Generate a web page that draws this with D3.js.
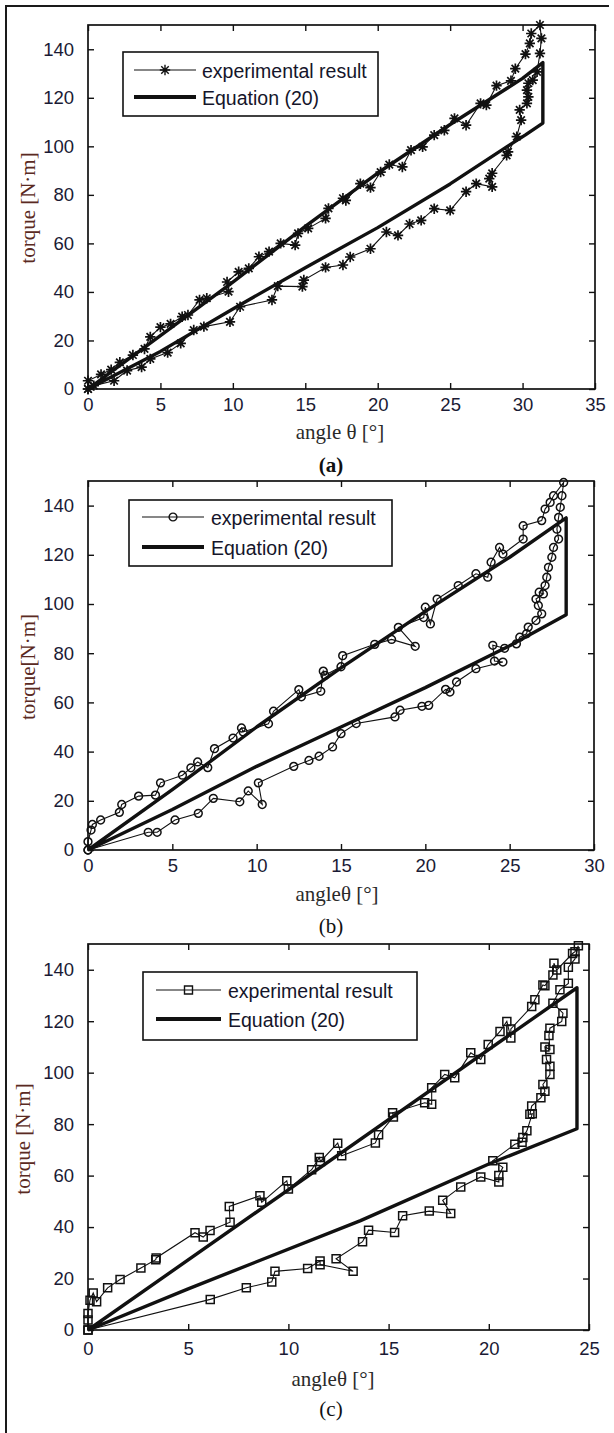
<!DOCTYPE html>
<html>
<head>
<meta charset="utf-8">
<script src="https://cdn.jsdelivr.net/npm/d3@7"></script>
<style>
  body { margin: 0; background: #fff; }
  svg { display: block; }
</style>
</head>
<body>
<svg id="fig" width="614" height="1433"></svg>
<script>
// ---- Data -----------------------------------------------------------------
// Torque axis (shared by all three panels)
const torqueTicks = [0, 20, 40, 60, 80, 100, 120, 140];

// Panel (a): angle ticks and measured loop (loading then unloading)
const aAngleTicks = [0, 5, 10, 15, 20, 25, 30, 35];
const aAngle = [0, 0, 0.9, 1.6, 2.2, 3.1, 3.9, 4.3, 5.0, 5.7, 6.5, 6.9, 7.7, 8.2, 9.7, 9.6, 10.4, 11.1, 11.8, 12.5,
  13.3, 14.3, 14.5, 15.2, 16.4, 16.6, 17.6, 17.8, 18.8, 19.5, 20.2, 20.8, 21.7, 22.3, 23.1, 23.9, 24.6, 25.3, 26.1,
  27.1, 27.5, 28.2, 29.2, 29.5, 30.2, 30.5, 30.6, 31.2,
  31.3, 31.2, 31.0, 30.7, 30.4, 30.3, 30.4, 30.3, 29.8, 29.9, 29.6, 29.0, 28.9, 27.9, 27.7, 27.9, 26.8, 26.1, 25.0,
  23.9, 23.0, 22.2, 21.4, 20.6, 19.5, 18.1, 17.6, 16.4, 14.9, 14.8, 13.1, 12.7, 10.5, 9.8, 8.0, 7.3, 6.4, 5.5, 4.3,
  3.7, 2.7, 1.8, 0.4, 0];
const aTorque = [0, 3.4, 6, 8, 11, 14, 16.5, 21.5, 25.5, 26.8, 29.8, 30.5, 36.7, 37.4, 40.1, 44.1, 48.3, 49.7, 54.5, 56.6,
  60, 59.3, 64.1, 66.2, 70.3, 74.4, 78.6, 77.7, 84.6, 83, 89.4, 92.5, 91.5, 98.4, 99.8, 104.6, 106.6, 111.5, 108.7,
  117.7, 117, 125, 127, 132, 138, 142.4, 146.5, 150,
  144.5, 138.3, 130.7, 127.3, 126, 123.2, 120.4, 117.7, 115, 110.8, 104, 97.7, 96.3, 88.9, 86.7, 83.3, 84.6, 81.3, 73.6,
  74.3, 69.5, 68, 63.3, 64.7, 57.8, 54.4, 51.1, 50.1, 44.9, 42.2, 42.4, 36.7, 33.9, 27.7, 25.7, 24.3, 18.8, 15, 12.4,
  9, 7.6, 3.4, 1.4, 0];
// Panel (a): Equation (20)
const aEqAngle = [0, 5, 10, 15, 20, 25, 30, 31.4, 31.4, 30.2, 28.9, 25, 20, 15, 10, 5, 0];
const aEqTorque = [0, 22, 44, 67, 89, 109, 128, 134.5, 109.6, 104.7, 99.8, 84.5, 66.5, 50, 33, 15.5, 0];

// Panel (b)
const bAngleTicks = [0, 5, 10, 15, 20, 25, 30];
const bAngle = [0, 0, 0.18, 0.26, 0.75, 1.86, 2.0, 3.0, 4.0, 4.3, 5.6, 6.1, 6.5, 7.1, 7.5, 8.6, 9.1, 9.2, 10.7, 11.0,
  12.5, 12.65, 13.8, 13.95, 14.05, 15.0, 15.1, 17.0, 18.0, 19.4, 18.4, 19.9, 20.0, 20.3, 20.7, 21.95, 23.0, 23.7,
  23.9, 24.4, 24.6, 25.8, 25.8, 26.9, 27.1, 27.4, 27.6, 28.2,
  28.1, 28.0, 27.9, 27.8, 27.9, 27.6, 27.5, 27.3, 27.2, 27.1, 26.75, 27.0, 26.56, 26.7, 26.9, 26.56, 26.1, 26.0, 25.6,
  25.4, 24.7, 24.0, 24.1, 24.6, 23.0, 21.85, 21.46, 21.2, 20.2, 19.8, 18.5, 18.2, 15.9, 15.0, 14.5, 13.7, 13.1, 12.2,
  10.1, 10.33, 9.5, 9.0, 7.43, 6.54, 5.16, 4.1, 3.57, 0];
const bTorque = [0, 3.4, 8.1, 10.4, 12.2, 15.3, 18.5, 21.9, 22.3, 27.3, 30.4, 33.4, 35.8, 33.5, 41.2, 45.5, 49.6, 48, 51.3, 56.4,
  65.2, 62.3, 64.5, 72.7, 71, 74.5, 79, 83.6, 85.6, 82.8, 90.5, 94.5, 98.7, 91.9, 102, 107.5, 112.3, 110.9,
  117, 123, 120.3, 126.4, 131.8, 133.9, 138.6, 141.3, 144, 149.4,
  144, 139.3, 135.2, 130.4, 126.4, 123, 119, 114.9, 110.9, 107.5, 104.8, 104.1, 102, 99.4, 96, 93.3, 90.6, 87.9, 86.5,
  83.8, 82, 83.2, 76.8, 76.4, 73.7, 68.3, 64.2, 65.3, 58.8, 58.4, 56.8, 54.1, 51.4, 47.3, 41.9, 38.1, 36.4, 34,
  27.3, 18.5, 24, 19.6, 21, 14.9, 12.2, 7.2, 7.2, 0];
const bEqAngle = [0, 5, 10, 15, 20, 25, 28.35, 28.35, 25, 20, 15, 10, 5, 0];
const bEqTorque = [0, 24.5, 50, 74, 97, 119, 135, 95.6, 83, 66, 50, 34, 16.5, 0];

// Panel (c)
const cAngleTicks = [0, 5, 10, 15, 20, 25];
const cAngle = [0, 0, 0, 0.1, 0.26, 0.43, 0.98, 1.6, 2.64, 3.38, 3.4, 5.34, 5.75, 6.09, 7.09, 7.05, 8.58, 8.67, 9.92, 10.0,
  11.16, 11.54, 11.6, 12.46, 12.66, 14.34, 14.5, 15.24, 15.2, 16.8, 17.15, 17.15, 17.8, 18.3, 19.1, 19.6, 19.97,
  20.56, 20.9, 21.1, 21.1, 22.14, 22.3, 22.7, 22.8, 23.2, 23.25, 23.39, 24.18, 24.3, 24.47,
  24.3, 23.97, 23.97, 23.55, 23.2, 23.7, 23.64, 23.05, 23.0, 23.05, 22.8, 22.88, 23.05, 23.05, 22.7, 22.8, 22.6, 22.14,
  22.05, 22.17, 21.9, 21.7, 21.66, 21.3, 20.2, 20.7, 20.5, 20.5, 19.6, 18.6, 17.7, 18.1, 17.03, 15.7, 15.3, 14.0,
  13.7, 12.38, 13.23, 11.58, 11.58, 10.96, 9.33, 9.17, 7.9, 6.1, 0];
const cTorque = [0, 3.9, 6.4, 11.6, 14.4, 11, 16.4, 19.6, 24.1, 27.3, 28, 37.8, 36.1, 38.7, 41.9, 48, 52.2, 49.6, 58, 54.8,
  62.3, 67, 65.5, 72.6, 67.7, 72.7, 75.9, 82.8, 84.4, 88.3, 87.7, 94.1, 99.3, 98, 107.7, 105.1, 110.9,
  116, 119.9, 113.5, 117, 125.7, 128.3, 134.1, 133.8, 138, 142.5, 139.9, 146.3, 147, 149.3,
  144.2, 141, 134.7, 132.2, 127, 123.1, 119.9, 117.3, 114.4, 109, 110, 105.1, 102.5, 99.3, 95.4, 92.8, 90.3, 87,
  83.8, 84, 77.4, 74.8, 73, 72.2, 65.8, 63.2, 60, 57.5, 59.5, 55.6, 50.4, 45.3, 46.2, 44.4, 37.9, 38.8,
  34.3, 27.7, 22.8, 25.4, 26.8, 23.9, 22.8, 18.7, 16.4, 11.9, 0];
const cEqAngle = [0, 24.4, 24.4, 20, 13.6, 5, 0];
const cEqTorque = [0, 133, 78.2, 64.5, 42.5, 16, 0];

// ---- Drawing --------------------------------------------------------------
const svg = d3.select('#fig');
svg.append('rect').attr('width', 614).attr('height', 1433).attr('fill', '#fff');

// frame of the figure cell
svg.append('path')
  .attr('d', 'M6,1433V6H609')
  .attr('fill', 'none').attr('stroke', '#1a1a1a').attr('stroke-width', 2);

const TICK_FONT = '"Liberation Sans", Arial, sans-serif';
const SERIF = '"Liberation Serif", "Times New Roman", serif';
const INK = '#111';

// marker shapes
function markerPath(kind) {
  if (kind === 'star') {
    const r = 5.2, k = r * 0.72;
    return `M${-r},0L${r},0M0,${-r}L0,${r}M${-k},${-k}L${k},${k}M${-k},${k}L${k},${-k}`;
  }
  if (kind === 'circle') {
    const r = 3.9;
    return `M${r},0A${r},${r} 0 1,1 ${-r},0A${r},${r} 0 1,1 ${r},0Z`;
  }
  const h = 4;
  return `M${-h},${-h}H${h}V${h}H${-h}Z`;
}

const panels = [
  { angle: aAngle, torque: aTorque, eqAngle: aEqAngle, eqTorque: aEqTorque, xTicks: aAngleTicks, xMax: 35,
    marker: 'star', L: 88, R: 595, T: 25, B: 389, xPad: 9,
    legend: { x0: 123, x1: 378, y0: 52, y1: 116, lx0: 134, lx1: 196, row1: 70, row2: 97, tx: 202 },
    xTitle: 'angle θ [°]', xTitleX: 340, xTitleY: 439,
    yTitle: 'torque [N·m]', yTitleX: 35, yTitleY: 208,
    caption: '(a)', capBold: true, capY: 472 },
  { angle: bAngle, torque: bTorque, eqAngle: bEqAngle, eqTorque: bEqTorque, xTicks: bAngleTicks, xMax: 30,
    marker: 'circle', L: 88, R: 594, T: 481, B: 850, xPad: 9,
    legend: { x0: 129, x1: 392, y0: 500, y1: 566, lx0: 142, lx1: 204, row1: 517, row2: 547, tx: 211 },
    xTitle: 'angleθ [°]', xTitleX: 337, xTitleY: 901,
    yTitle: 'torque[N·m]', yTitleX: 35, yTitleY: 667,
    caption: '(b)', capBold: false, capY: 933 },
  { angle: cAngle, torque: cTorque, eqAngle: cEqAngle, eqTorque: cEqTorque, xTicks: cAngleTicks, xMax: 25,
    marker: 'square', L: 88, R: 589, T: 944, B: 1330, xPad: 12,
    legend: { x0: 143, x1: 417, y0: 972, y1: 1040, lx0: 156, lx1: 221, row1: 990, row2: 1019, tx: 228 },
    xTitle: 'angleθ [°]', xTitleX: 333, xTitleY: 1386,
    yTitle: 'torque [N·m]', yTitleX: 30, yTitleY: 1139,
    caption: '(c)', capBold: false, capY: 1416 }
];

panels.forEach(p => {
  const x = d3.scaleLinear().domain([0, p.xMax]).range([p.L, p.R]);
  const y = d3.scaleLinear().domain([0, 150]).range([p.B, p.T]);
  const g = svg.append('g');

  // ticks on all four sides, pointing inward
  const styleAxis = sel => {
    sel.select('.domain').remove();
    sel.selectAll('.tick line').attr('stroke', INK).attr('stroke-width', 1.4);
    sel.selectAll('.tick text').attr('fill', '#1a1a34')
      .style('font-family', TICK_FONT).style('font-size', '18.5px');
  };
  g.append('g').attr('transform', `translate(0,${p.B})`)
    .call(d3.axisBottom(x).tickValues(p.xTicks).tickSize(-6).tickPadding(p.xPad).tickFormat(d3.format('d')))
    .call(styleAxis);
  g.append('g').attr('transform', `translate(0,${p.T})`)
    .call(d3.axisTop(x).tickValues(p.xTicks).tickSize(-6).tickFormat(''))
    .call(styleAxis);
  g.append('g').attr('transform', `translate(${p.L},0)`)
    .call(d3.axisLeft(y).tickValues(torqueTicks).tickSize(-6).tickPadding(14).tickFormat(d3.format('d')))
    .call(styleAxis);
  g.append('g').attr('transform', `translate(${p.R},0)`)
    .call(d3.axisRight(y).tickValues(torqueTicks).tickSize(-6).tickFormat(''))
    .call(styleAxis);

  // experimental loop
  const pts = p.angle.map((a, i) => [a, p.torque[i]]);
  const line = d3.line().x(d => x(d[0])).y(d => y(d[1]));
  g.append('path').attr('d', line(pts))
    .attr('fill', 'none').attr('stroke', INK).attr('stroke-width', 1.1);
  g.append('g').selectAll('path').data(pts).join('path')
    .attr('transform', d => `translate(${x(d[0])},${y(d[1])})`)
    .attr('d', markerPath(p.marker))
    .attr('fill', 'none').attr('stroke', INK).attr('stroke-width', p.marker === 'star' ? 1.7 : 1.5);

  // Equation (20)
  const eq = p.eqAngle.map((a, i) => [a, p.eqTorque[i]]);
  g.append('path').attr('d', line(eq))
    .attr('fill', 'none').attr('stroke', INK).attr('stroke-width', 3.4)
    .attr('stroke-linejoin', 'round');

  // plot box
  g.append('rect').attr('x', p.L).attr('y', p.T)
    .attr('width', p.R - p.L).attr('height', p.B - p.T)
    .attr('fill', 'none').attr('stroke', INK).attr('stroke-width', 1.7);

  // legend
  const lg = p.legend;
  const leg = g.append('g');
  leg.append('rect').attr('x', lg.x0).attr('y', lg.y0)
    .attr('width', lg.x1 - lg.x0).attr('height', lg.y1 - lg.y0)
    .attr('fill', '#fff').attr('stroke', INK).attr('stroke-width', 1.6);
  leg.append('line').attr('x1', lg.lx0).attr('x2', lg.lx1).attr('y1', lg.row1).attr('y2', lg.row1)
    .attr('stroke', INK).attr('stroke-width', 1.1);
  leg.append('path').attr('transform', `translate(${(lg.lx0 + lg.lx1) / 2},${lg.row1})`)
    .attr('d', markerPath(p.marker)).attr('fill', 'none').attr('stroke', INK).attr('stroke-width', 1.4);
  leg.append('line').attr('x1', lg.lx0).attr('x2', lg.lx1).attr('y1', lg.row2).attr('y2', lg.row2)
    .attr('stroke', INK).attr('stroke-width', 3.8);
  [['experimental result', lg.row1], ['Equation (20)', lg.row2]].forEach(([t, yy]) => {
    leg.append('text').attr('x', lg.tx).attr('y', yy + 7.5).text(t)
      .attr('fill', '#15152a').style('font-family', TICK_FONT).style('font-size', '19.5px');
  });

  // axis titles
  g.append('text').attr('x', p.xTitleX).attr('y', p.xTitleY).attr('text-anchor', 'middle')
    .text(p.xTitle).attr('fill', '#2a2a2a').style('font-family', SERIF).style('font-size', '21px');
  g.append('text').attr('transform', `translate(${p.yTitleX},${p.yTitleY}) rotate(-90)`)
    .attr('text-anchor', 'middle').text(p.yTitle)
    .attr('fill', '#5a2a22').style('font-family', SERIF).style('font-size', '21px');

  // panel caption
  g.append('text').attr('x', 331).attr('y', p.capY).attr('text-anchor', 'middle')
    .text(p.caption).attr('fill', INK).style('font-family', SERIF).style('font-size', '21px')
    .style('font-weight', p.capBold ? 'bold' : 'normal');
});
</script>
</body>
</html>
